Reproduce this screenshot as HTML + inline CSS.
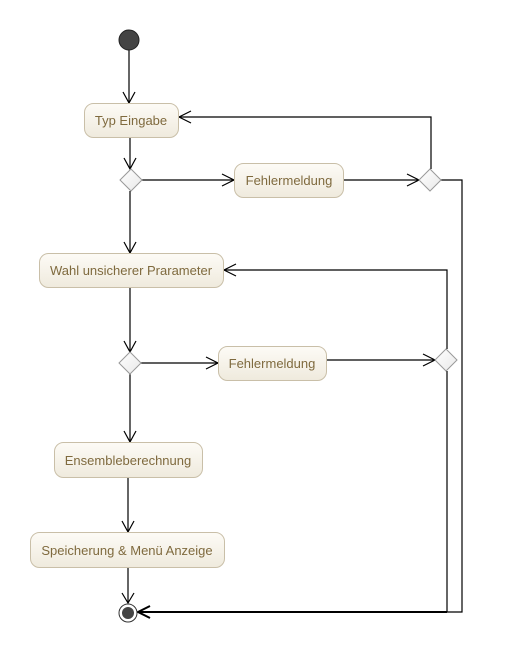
<!DOCTYPE html>
<html><head><meta charset="utf-8"><style>
html,body{margin:0;padding:0;background:#fff;}
svg{display:block}
text{font-family:"Liberation Sans",sans-serif;font-size:13px;fill:#7f6a3e;}
</style></head><body>
<svg width="513" height="654" viewBox="0 0 513 654" xmlns="http://www.w3.org/2000/svg">
<defs>
<linearGradient id="g" x1="0" y1="0" x2="0" y2="1"><stop offset="0" stop-color="#fdfbf6"/><stop offset="1" stop-color="#efeadd"/></linearGradient>
<linearGradient id="d" x1="0" y1="0" x2="1" y2="1"><stop offset="0" stop-color="#fff"/><stop offset="1" stop-color="#e8e8e8"/></linearGradient>
</defs>
<g stroke="#000" stroke-width="1.2" fill="none">
<path d="M129 50V103"/><path d="M123 92l6 11 6-11"/>
<path d="M130 137V169"/><path d="M124 158l6 11 6-11"/>
<path d="M142 180H234"/><path d="M222 174l12 6-12 6"/>
<path d="M343 180H419"/><path d="M407 174l12 6-12 6"/>
<path d="M431 169V117H179"/><path d="M191 111l-12 6 12 6"/>
<path d="M441 180H462V612H447"/>
<path d="M130 191V253"/><path d="M124 242l6 11 6-11"/>
<path d="M130 287V352"/><path d="M124 341l6 11 6-11"/>
<path d="M141 363H218"/><path d="M206 357l12 6-12 6"/>
<path d="M326 360H435"/><path d="M423 354l12 6-12 6"/>
<path d="M447 349V270H224"/><path d="M236 264l-12 6 12 6"/>
<path d="M447 371V612"/>
<path d="M130 374V442"/><path d="M124 431l6 11 6-11"/>
<path d="M128 477V532"/><path d="M122 521l6 11 6-11"/>
<path d="M128 567V603"/><path d="M122 593l6 10 6-10"/>
<path d="M447 612H138" stroke-width="2"/><path d="M150 606l-12 6 12 6" stroke-width="2"/>
</g>
<circle cx="129" cy="40" r="10" fill="#444" stroke="#222"/>
<circle cx="128" cy="613" r="9" fill="#fff" stroke="#333"/>
<circle cx="128" cy="613" r="6" fill="#444"/>
<g stroke="#999" fill="url(#d)">
<path d="M131 169l11 11-11 11-11-11z"/>
<path d="M430 169l11 11-11 11-11-11z"/>
<path d="M130 352l11 11-11 11-11-11z"/>
<path d="M446 349l11 11-11 11-11-11z"/>
</g>
<g stroke="#c9bfa8" fill="url(#g)">
<rect x="84.5" y="103.5" width="94" height="34" rx="9"/>
<rect x="234.5" y="163.5" width="109" height="34" rx="9"/>
<rect x="39.5" y="253.5" width="184" height="34" rx="9"/>
<rect x="218.5" y="346.5" width="108" height="34" rx="9"/>
<rect x="54.5" y="442.5" width="148" height="35" rx="9"/>
<rect x="30.5" y="532.5" width="194" height="35" rx="9"/>
</g>
<text x="131" y="125" text-anchor="middle">Typ Eingabe</text>
<text x="289" y="185" text-anchor="middle">Fehlermeldung</text>
<text x="131" y="275" text-anchor="middle">Wahl unsicherer Prarameter</text>
<text x="272" y="368" text-anchor="middle">Fehlermeldung</text>
<text x="128" y="465" text-anchor="middle">Ensembleberechnung</text>
<text x="127" y="555" text-anchor="middle">Speicherung &amp; Menü Anzeige</text>
</svg>
</body></html>
